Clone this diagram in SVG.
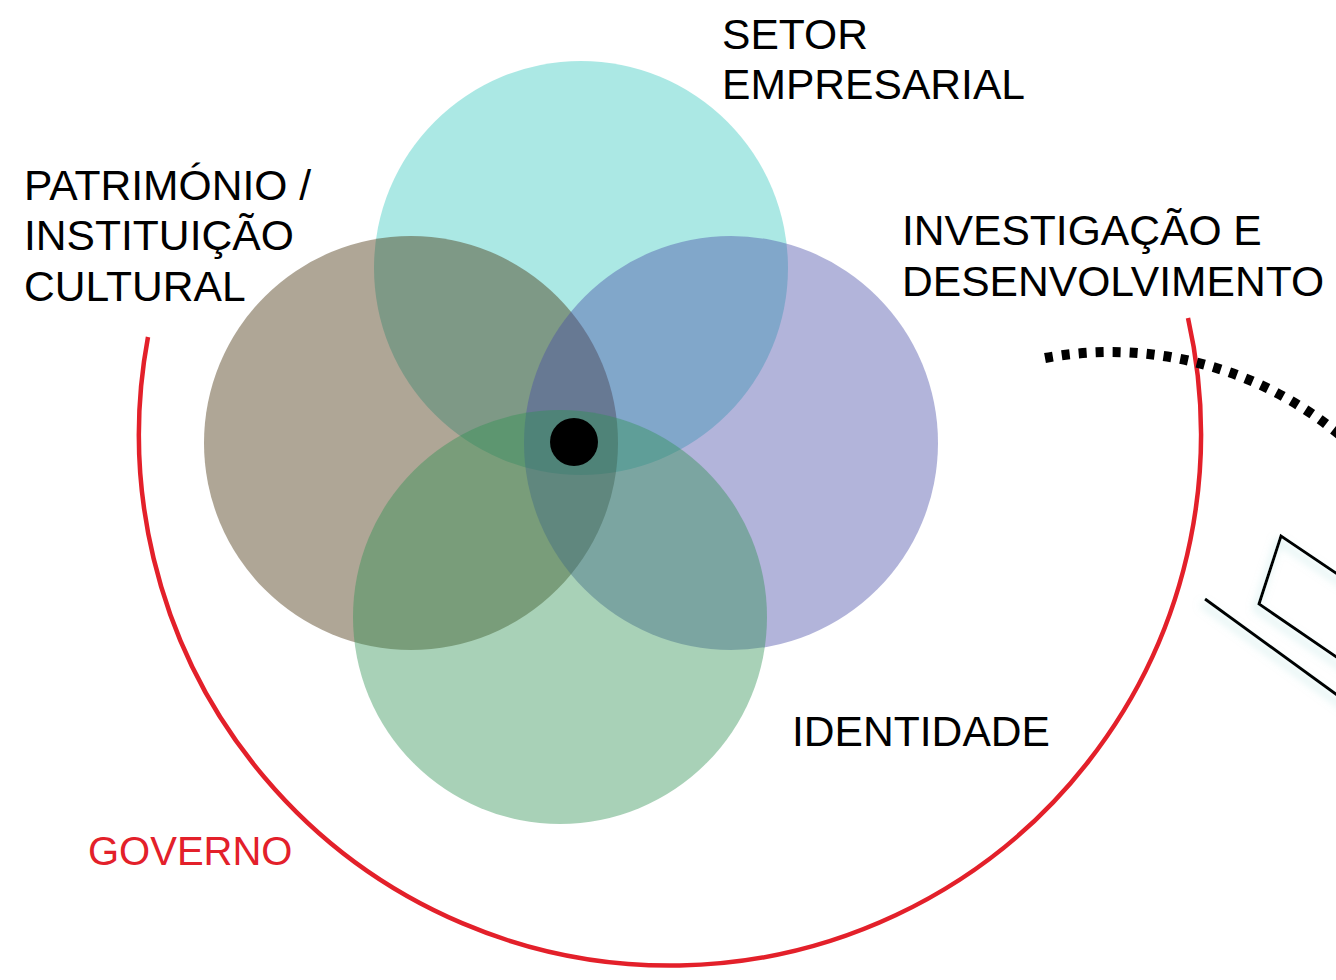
<svg xmlns="http://www.w3.org/2000/svg" width="1336" height="980" viewBox="0 0 1336 980">
  <style>
    .lbl { font-family: "Liberation Sans", Arial, sans-serif; font-size: 42.6px; fill: #000; }
    .gov { font-family: "Liberation Sans", Arial, sans-serif; font-size: 40px; fill: #E3202A; }
    .circ { fill-opacity: 0.42; }
    .sketch { fill: none; stroke: #000; stroke-width: 3; filter: url(#glow); }
  </style>
  <defs>
    <filter id="glow" x="-30%" y="-30%" width="160%" height="160%">
      <feGaussianBlur in="SourceAlpha" stdDeviation="4" result="b"/>
      <feOffset in="b" dx="-3" dy="5" result="o"/>
      <feFlood flood-color="#9fd8d6" flood-opacity="0.6"/>
      <feComposite in2="o" operator="in" result="s"/>
      <feMerge><feMergeNode in="s"/><feMergeNode in="SourceGraphic"/></feMerge>
    </filter>
  </defs>
  <rect width="1336" height="980" fill="#fff"/>

  <g id="governo">
    <path d="M148,337 A531,531 0 1,0 1188,318" fill="none" stroke="#E3202A" stroke-width="4.5"/>
    <text class="gov" x="88" y="865">GOVERNO</text>
  </g>

  <g id="connectors">
    <path d="M1045,358 A359,359 0 0,1 1360,453" fill="none" stroke="#000" stroke-width="10" stroke-dasharray="8 9"/>
  </g>

  <g id="sketch-shapes">
    <polyline class="sketch" points="1370,596 1281,536 1259,604 1370,680"/>
    <line class="sketch" x1="1205" y1="599" x2="1370" y2="719"/>
  </g>

  <g id="setor-empresarial">
    <circle class="circ" cx="581" cy="268" r="207" fill="#37c8bf"/>
    <text class="lbl" x="722" y="49">SETOR</text>
    <text class="lbl" x="722" y="99">EMPRESARIAL</text>
  </g>
  <g id="patrimonio">
    <circle class="circ" cx="411" cy="443" r="207" fill="#412b05"/>
    <text class="lbl" x="24" y="200">PATRIMÓNIO /</text>
    <text class="lbl" x="24" y="250">INSTITUIÇÃO</text>
    <text class="lbl" x="24" y="301">CULTURAL</text>
  </g>
  <g id="investigacao">
    <circle class="circ" cx="731" cy="443" r="207" fill="#484ca7"/>
    <text class="lbl" x="902" y="245">INVESTIGAÇÃO E</text>
    <text class="lbl" x="902" y="296">DESENVOLVIMENTO</text>
  </g>
  <g id="identidade">
    <circle class="circ" cx="560" cy="617" r="207" fill="#309154"/>
    <text class="lbl" x="792" y="746">IDENTIDADE</text>
  </g>
  <g id="centro">
    <circle cx="574" cy="442" r="24" fill="#000"/>
  </g>
</svg>
